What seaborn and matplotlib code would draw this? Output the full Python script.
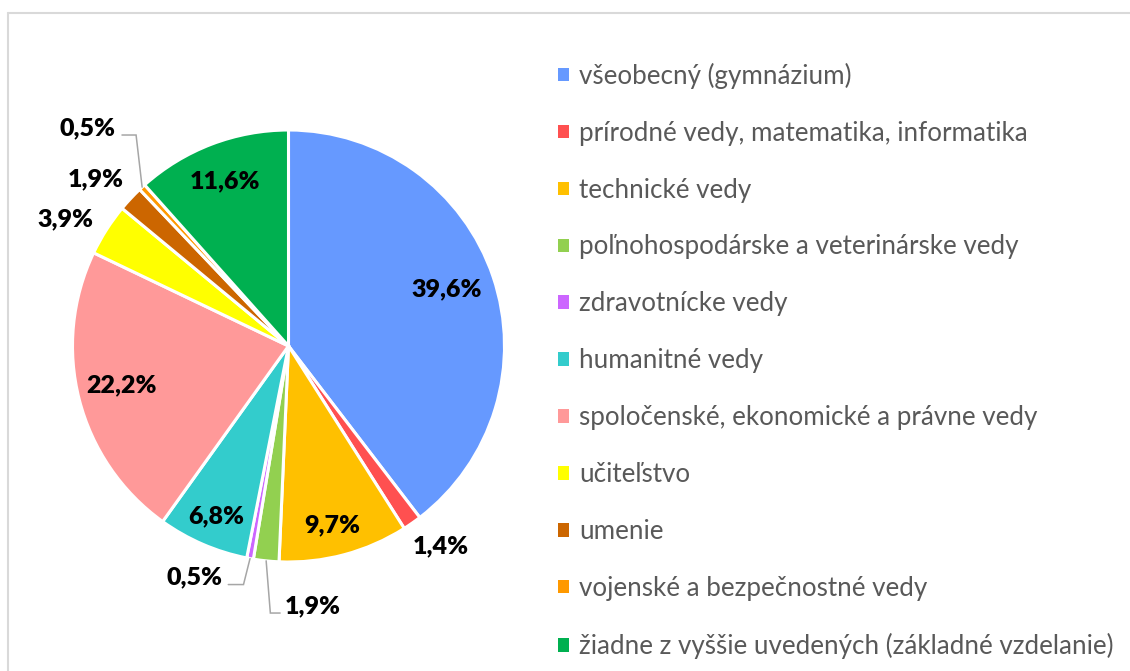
import matplotlib
matplotlib.use("Agg")
import matplotlib.pyplot as plt
import numpy as np
import seaborn as sns
from matplotlib.lines import Line2D
from matplotlib.patches import Patch

sns.set_theme(style="white")
plt.rcParams["font.family"] = ["Lato", "DejaVu Sans"]

categories = [
    "všeobecný (gymnázium)",
    "prírodné vedy, matematika, informatika",
    "technické vedy",
    "poľnohospodárske a veterinárske vedy",
    "zdravotnícke vedy",
    "humanitné vedy",
    "spoločenské, ekonomické a právne vedy",
    "učiteľstvo",
    "umenie",
    "vojenské a bezpečnostné vedy",
    "žiadne z vyššie uvedených (základné vzdelanie)",
]
shares = [39.6, 1.4, 9.7, 1.9, 0.5, 6.8, 22.2, 3.9, 1.9, 0.5, 11.6]
colors = [
    "#6699FF", "#FF5050", "#FFC000", "#92D050", "#CC66FF", "#33CCCC",
    "#FF9999", "#FFFF00", "#CC6600", "#FF9900", "#00B050",
]

# label placement: radius (in pie radii), angle shift from wedge middle, alignment
label_radius = [0.78, 1.165, 0.853, 1.204, 1.115, 0.856, 0.796, 1.186, 1.177, 1.287, 0.818]
label_shift = [1.1, 2.3, -1.3, 5.2, -5.7, 0.3, -1.3, 2.9, 2.2, -4.3, 0.2]
label_ha = ["center", "center", "center", "left", "right", "center",
            "center", "center", "center", "right", "center"]
with_leader = {3, 4, 9}

W, H = 1130, 671
cx, cy, R = 288.5, 346, 216

fig = plt.figure(figsize=(W / 100, H / 100), dpi=100)
ax = fig.add_axes([0, 0, 2 * cx / W, 650 / H])

wedges, _ = ax.pie(
    shares,
    colors=colors,
    startangle=90,
    counterclock=False,
    radius=1,
    wedgeprops=dict(edgecolor="white", linewidth=2.2),
)
ax.set_xlim(-cx / R, cx / R)
ax.set_ylim(-325 / R, 325 / R)
ax.set_aspect("equal")
ax.axis("off")

px = 1 / R
for i, w in enumerate(wedges):
    mid = (w.theta1 + w.theta2) / 2
    ang = np.deg2rad(mid + label_shift[i])
    x = label_radius[i] * np.cos(ang)
    y = label_radius[i] * np.sin(ang)
    text = f"{shares[i]:.1f}".replace(".", ",") + "%"
    ax.text(x, y, text, ha=label_ha[i], va="center", fontsize=18,
            fontweight="heavy", color="black")
    if i in with_leader:
        ex = np.cos(np.deg2rad(mid))
        ey = np.sin(np.deg2rad(mid))
        ly = y - 7 * px
        end_x = x + 6 * px if label_ha[i] == "right" else x - 5 * px
        elbow_x = ex + 0.3 * (end_x - ex)
        ax.plot([ex, elbow_x, end_x], [ey, ly, ly], color="#A6A6A6", lw=1.1,
                solid_joinstyle="miter")

handles = [Patch(facecolor=c, edgecolor="none") for c in colors]
fig.legend(
    handles,
    categories,
    loc="upper left",
    bbox_to_anchor=(558 / W, 1 - 62.5 / H),
    frameon=False,
    fontsize=18.7,
    handlelength=0.41,
    handleheight=0.41,
    handletextpad=0.41,
    labelspacing=1.23,
    borderpad=0,
    borderaxespad=0,
    labelcolor="#595959",
)

fig.add_artist(Line2D([7.5 / W, 1], [1 - 13 / H, 1 - 13 / H],
                      transform=fig.transFigure, color="#D9D9D9", lw=1.5))
fig.add_artist(Line2D([7.5 / W, 7.5 / W], [0, 1 - 13 / H],
                      transform=fig.transFigure, color="#D9D9D9", lw=1.5))

fig.savefig("out.png", dpi=100, facecolor="white")
